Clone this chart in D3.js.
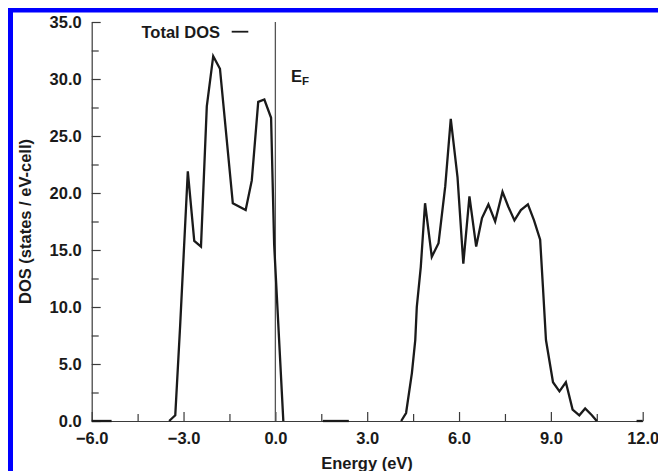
<!DOCTYPE html>
<html>
<head>
<meta charset="utf-8">
<script src="https://cdn.jsdelivr.net/npm/d3@7/dist/d3.min.js"></script>
<style>
  html, body { margin: 0; padding: 0; background: #fff; }
  svg { display: block; }
  text { font-family: "Liberation Sans", Arial, Helvetica, sans-serif; font-weight: bold; fill: #1a1a1a; }
</style>
</head>
<body>
<svg id="chart" width="658" height="471"></svg>
<script>
// Total density of states, energies in eV relative to the Fermi level.
// Separate pieces of the curve are kept as separate arrays.
const lowTailEnergy = [-6.0, -5.35];
const lowTailDos    = [0.0, 0.0];

const valenceEnergy = [-3.47, -3.27, -3.11, -2.86, -2.65, -2.43, -2.24, -2.03, -1.81, -1.39, -0.97, -0.77, -0.56, -0.36, -0.14, -0.04, 0.26];
const valenceDos    = [0.0, 0.5, 8.4, 21.9, 15.8, 15.3, 27.6, 32.0, 30.9, 19.1, 18.5, 21.1, 28.0, 28.2, 26.6, 15.5, 0.0];

const gapEnergy = [1.55, 2.4];
const gapDos    = [0.0, 0.0];

const conductionEnergy = [4.11, 4.27, 4.46, 4.57, 4.62, 4.75, 4.89, 5.11, 5.33, 5.55, 5.73, 5.95, 6.14, 6.34, 6.56, 6.75, 6.96, 7.18, 7.42, 7.61, 7.81, 8.02, 8.25, 8.45, 8.65, 8.74, 8.84, 9.07, 9.28, 9.49, 9.71, 9.93, 10.12, 10.34, 10.50];
const conductionDos    = [0.0, 0.7, 4.2, 7.1, 10.0, 13.5, 19.1, 14.4, 15.6, 20.6, 26.5, 21.4, 13.8, 19.7, 15.3, 17.8, 19.0, 17.5, 20.1, 18.8, 17.6, 18.5, 19.0, 17.6, 15.9, 11.8, 7.1, 3.4, 2.6, 3.4, 1.0, 0.5, 1.1, 0.5, 0.0];

const highTailEnergy = [11.8, 12.0];
const highTailDos    = [0.0, 0.0];

// Axis ticks
const xMajorTicks = [-6, -3, 0, 3, 6, 9, 12];
const xMinorTicks = [-4.5, -1.5, 1.5, 4.5, 7.5, 10.5];
const yMajorTicks = [0, 5, 10, 15, 20, 25, 30, 35];
const yMinorTicks = [2.5, 7.5, 12.5, 17.5, 22.5, 27.5, 32.5];

const xLabel = "Energy (eV)";
const yLabel = "DOS (states / eV-cell)";
const legendLabel = "Total DOS";

const fontSize = 16.5;
const svg = d3.select("#chart");

// Blue frame along the top and left edges
svg.append("rect").attr("x", 8).attr("y", 8).attr("width", 650).attr("height", 4.5).attr("fill", "#0000ff");
svg.append("rect").attr("x", 8).attr("y", 8).attr("width", 5).attr("height", 463).attr("fill", "#0000ff");

const x = d3.scaleLinear().domain([-6, 12]).range([91.7, 642.7]);
const y = d3.scaleLinear().domain([0, 35]).range([421, 22]);

const fmt = d3.format(".1f");
const axisColor = "#3a3a3a";

function styleAxis(g) {
  g.selectAll("path.domain").attr("stroke", axisColor).attr("stroke-width", 1.2);
  g.selectAll(".tick line").attr("stroke", axisColor).attr("stroke-width", 1.2);
  g.selectAll("text").attr("font-size", fontSize).attr("fill", "#1a1a1a")
    .attr("font-family", "'Liberation Sans', Arial, Helvetica, sans-serif").attr("font-weight", "bold");
}

// X axis: ticks point into the plot
const gx = svg.append("g").attr("transform", `translate(0,${y(0)})`)
  .call(d3.axisBottom(x).tickValues(xMajorTicks).tickFormat(fmt).tickSizeInner(-9).tickSizeOuter(0).tickPadding(11));
styleAxis(gx);
const gxMinor = svg.append("g").attr("transform", `translate(0,${y(0)})`)
  .call(d3.axisBottom(x).tickValues(xMinorTicks).tickFormat("").tickSizeInner(-7).tickSizeOuter(0));
styleAxis(gxMinor);
gxMinor.select("path.domain").remove();

// Y axis
const gy = svg.append("g").attr("transform", `translate(${x(-6)},0)`)
  .call(d3.axisLeft(y).tickValues(yMajorTicks).tickFormat(fmt).tickSizeInner(-9).tickSizeOuter(0).tickPadding(10));
styleAxis(gy);
const gyMinor = svg.append("g").attr("transform", `translate(${x(-6)},0)`)
  .call(d3.axisLeft(y).tickValues(yMinorTicks).tickFormat("").tickSizeInner(-7).tickSizeOuter(0));
styleAxis(gyMinor);
gyMinor.select("path.domain").remove();

// Axis titles
svg.append("text").attr("x", 367).attr("y", 469).attr("text-anchor", "middle")
  .attr("font-size", fontSize).text(xLabel);
svg.append("text").attr("transform", `translate(31,${(y(0) + y(35)) / 2}) rotate(-90)`)
  .attr("text-anchor", "middle").attr("font-size", fontSize).text(yLabel);

// Fermi level marker
svg.append("line").attr("x1", x(0)).attr("x2", x(0)).attr("y1", y(35)).attr("y2", y(0))
  .attr("stroke", "#555").attr("stroke-width", 1.3);
const ef = svg.append("text").attr("x", 291).attr("y", 82).attr("font-size", 16.5);
ef.append("tspan").text("E");
ef.append("tspan").attr("font-size", 11.5).attr("dy", 3).text("F");

// Legend
svg.append("text").attr("x", 141.5).attr("y", 37.5).attr("font-size", fontSize).text(legendLabel);
svg.append("line").attr("x1", 231.7).attr("x2", 248.3).attr("y1", 31.7).attr("y2", 31.7)
  .attr("stroke", "#1a1a1a").attr("stroke-width", 1.8);

// DOS curve
const line = d3.line().x(d => x(d[0])).y(d => y(d[1]));
const pieces = [
  [lowTailEnergy, lowTailDos],
  [valenceEnergy, valenceDos],
  [gapEnergy, gapDos],
  [conductionEnergy, conductionDos],
  [highTailEnergy, highTailDos]
].map(([e, d]) => e.map((v, i) => [v, d[i]]));

svg.append("g").selectAll("path").data(pieces).join("path")
  .attr("d", line)
  .attr("fill", "none")
  .attr("stroke", "#1a1a1a")
  .attr("stroke-width", 2.3)
  .attr("stroke-linejoin", "miter");
</script>
</body>
</html>
